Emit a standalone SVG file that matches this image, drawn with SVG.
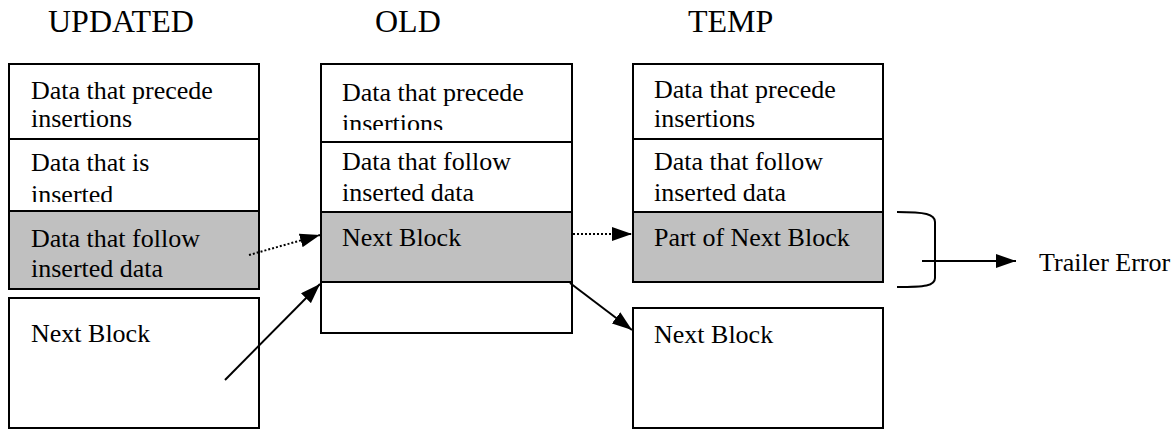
<svg xmlns="http://www.w3.org/2000/svg" width="1173" height="430" viewBox="0 0 1173 430">
<style>
.t{font-family:"Liberation Serif","Times New Roman",serif;font-size:26px;fill:#000}
.h{font-family:"Liberation Serif","Times New Roman",serif;font-size:32px;fill:#000}
.box{fill:#fff;stroke:#000;stroke-width:2}
.g{fill:#c0c0c0;stroke:#000;stroke-width:2}
.c{fill:none;stroke:#000;stroke-width:2}
.d{fill:none;stroke:#000;stroke-width:2;stroke-dasharray:2 2}
</style>
<defs>
<marker id="ah" markerWidth="20" markerHeight="14" refX="20" refY="7" orient="auto" markerUnits="userSpaceOnUse">
<path d="M0,0 L20,7 L0,14 Z" fill="#000"/>
</marker>
<clipPath id="cu2"><rect x="9" y="139" width="250" height="63"/></clipPath>
<clipPath id="co1"><rect x="321" y="64" width="251" height="66"/></clipPath>
<clipPath id="co2"><rect x="321" y="142" width="251" height="60"/></clipPath>
<clipPath id="ct2"><rect x="633" y="139" width="250" height="62"/></clipPath>
</defs>
<g id="titles">
<text class="h" x="48" y="32">UPDATED</text>
<text class="h" x="375" y="32">OLD</text>
<text class="h" x="688" y="32">TEMP</text>
</g>
<g id="updated">
<rect class="box" x="9" y="64" width="250" height="75"/>
<text class="t" x="31" y="99">Data that precede</text>
<text class="t" x="31" y="127">insertions</text>
<rect class="box" x="9" y="139" width="250" height="72"/>
<g clip-path="url(#cu2)">
<text class="t" x="31" y="171">Data that is</text>
<text class="t" x="31" y="203">inserted</text>
</g>
<rect class="g" x="9" y="211" width="250" height="78"/>
<text class="t" x="31" y="247">Data that follow</text>
<text class="t" x="31" y="277">inserted data</text>
</g>
<g id="updated-next">
<rect class="box" x="9" y="298" width="250" height="130"/>
<text class="t" x="31" y="342">Next Block</text>
</g>
<g id="old">
<rect class="box" x="321" y="64" width="251" height="78"/>
<g clip-path="url(#co1)">
<text class="t" x="342" y="101">Data that precede</text>
<text class="t" x="342" y="132">insertions</text>
</g>
<rect class="box" x="321" y="142" width="251" height="70"/>
<g clip-path="url(#co2)">
<text class="t" x="342" y="170">Data that follow</text>
<text class="t" x="342" y="201">inserted data</text>
</g>
<rect class="g" x="321" y="212" width="251" height="70"/>
<text class="t" x="342" y="246">Next Block</text>
<rect class="box" x="321" y="282" width="251" height="51"/>
</g>
<g id="temp">
<rect class="box" x="633" y="64" width="250" height="75"/>
<text class="t" x="654" y="98">Data that precede</text>
<text class="t" x="654" y="127">insertions</text>
<rect class="box" x="633" y="139" width="250" height="73"/>
<g clip-path="url(#ct2)">
<text class="t" x="654" y="170">Data that follow</text>
<text class="t" x="654" y="201">inserted data</text>
</g>
<rect class="g" x="633" y="212" width="250" height="70"/>
<text class="t" x="654" y="246">Part of Next Block</text>
</g>
<g id="temp-next">
<rect class="box" x="633" y="308" width="250" height="120"/>
<text class="t" x="654" y="343">Next Block</text>
</g>
<g id="trailer">
<path class="c" d="M897,212 C925,212 935,214 935,222 L935,278 C935,286 925,287 897,287"/>
<text class="t" x="1039" y="271">Trailer Error</text>
</g>
<g id="connectors">
<line class="d" x1="249" y1="255" x2="320" y2="235" marker-end="url(#ah)"/>
<line class="c" x1="225" y1="380" x2="320" y2="284" marker-end="url(#ah)"/>
<line class="d" x1="573" y1="234" x2="632" y2="234" marker-end="url(#ah)"/>
<line class="c" x1="570" y1="283" x2="632" y2="330" marker-end="url(#ah)"/>
<line class="c" x1="922" y1="261" x2="1016" y2="261" marker-end="url(#ah)"/>
</g>
</svg>
